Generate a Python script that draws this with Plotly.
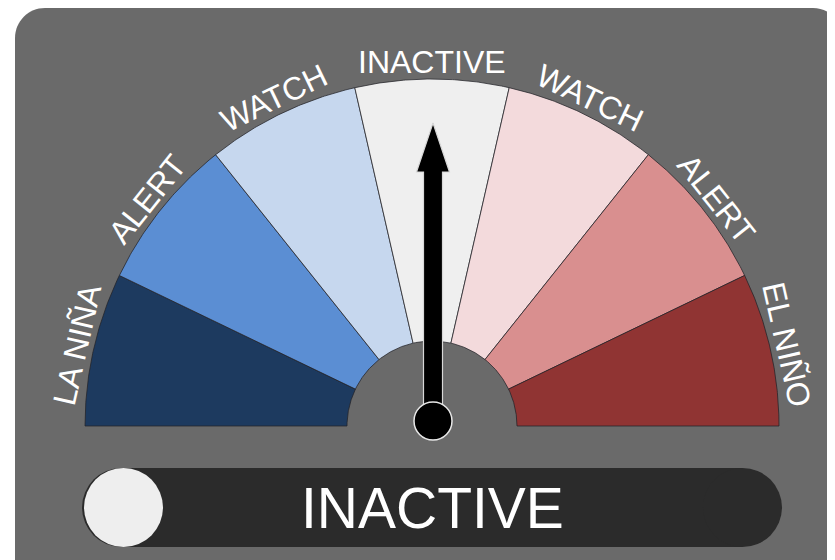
import numpy as np
import plotly.graph_objects as go

# ---- data ----
categories = ["LA NIÑA", "ALERT", "WATCH", "INACTIVE", "WATCH", "ALERT", "EL NIÑO"]
segment_colors = ["#1d3a5f", "#5b8ed3", "#c6d7ee", "#efefef", "#f3dadc", "#d98f8f", "#903433"]
active_index = 3          # needle points at this category
status_text = "INACTIVE"

# ---- layout geometry (pixels, 1 data unit = 1 px) ----
W, H = 835, 560
OFF = 8                   # page body margin compensation
CX, CY = 432, 426
R_OUT, R_IN = 347, 85
R_LABEL = 364
PIVOT = (433, 421)
FONT = "Liberation Sans, Arial, Helvetica, sans-serif"
BG = "#6a6a6a"

n = len(categories)
step = 180.0 / n

fig = go.Figure()

# segments
for i, (cat, col) in enumerate(zip(categories, segment_colors)):
    a0 = 180 - i * step
    a1 = 180 - (i + 1) * step
    t = np.radians(np.linspace(a0, a1, 80))
    xo = CX + R_OUT * np.cos(t)
    yo = CY - R_OUT * np.sin(t)
    xi = CX + R_IN * np.cos(t[::-1])
    yi = CY - R_IN * np.sin(t[::-1])
    xs = np.concatenate([xo, xi, xo[:1]])
    ys = np.concatenate([yo, yi, yo[:1]])
    fig.add_trace(go.Scatter(
        x=xs, y=ys, mode="lines", fill="toself", fillcolor=col,
        line=dict(color="rgba(35,35,40,0.75)", width=1),
        hoverinfo="skip", showlegend=False, name=cat))

# labels around the arc
annotations = []
for i, cat in enumerate(categories):
    mid = 180 - (i + 0.5) * step
    tm = np.radians(mid)
    annotations.append(dict(
        x=CX + R_LABEL * np.cos(tm), y=CY - R_LABEL * np.sin(tm),
        xref="x", yref="y", text=cat, showarrow=False,
        textangle=-(mid - 90), xanchor="center", yanchor="middle",
        font=dict(family=FONT, size=32, color="white")))

# needle
phi = np.radians(180 - (active_index + 0.5) * step)
u = np.array([np.cos(phi), -np.sin(phi)])
v = np.array([np.sin(phi), np.cos(phi)])
needle_local = [(0, -9.5), (249, -9.5), (249, -16.5), (298, 0),
                (249, 16.5), (249, 9.5), (0, 9.5), (0, -9.5)]
nx = [PIVOT[0] + r * u[0] + w * v[0] for r, w in needle_local]
ny = [PIVOT[1] + r * u[1] + w * v[1] for r, w in needle_local]
fig.add_trace(go.Scatter(
    x=nx, y=ny, mode="lines", fill="toself", fillcolor="black",
    line=dict(color="#d8d8d8", width=1.2), hoverinfo="skip", showlegend=False))
fig.add_trace(go.Scatter(
    x=[PIVOT[0]], y=[PIVOT[1]], mode="markers",
    marker=dict(size=38, color="black", line=dict(color="#e8e8e8", width=1.5)),
    hoverinfo="skip", showlegend=False))

# status text in pill
annotations.append(dict(
    x=CX, y=508, xref="x", yref="y", text=status_text, showarrow=False,
    xanchor="center", yanchor="middle",
    font=dict(family=FONT, size=57, color="white")))

# shapes: background panel, pill, indicator circle
k = 0.5523 * 30
bg_path = (f"M15,620 L15,38 C15,{38-k} {45-k},8 45,8 L813,8 "
           f"C{813+k},8 843,{38-k} 843,38 L843,620 Z")
PILL_X0, PILL_X1, PILL_Y0, PILL_Y1 = 82, 782, 468, 547
pr = (PILL_Y1 - PILL_Y0) / 2
shapes = [
    dict(type="path", path=bg_path, xref="x", yref="y", fillcolor=BG,
         line=dict(width=0), layer="below"),
    dict(type="rect", x0=PILL_X0 + pr, x1=PILL_X1 - pr, y0=PILL_Y0, y1=PILL_Y1,
         xref="x", yref="y", fillcolor="#2b2b2b", line=dict(width=0), layer="below"),
    dict(type="circle", x0=PILL_X0, x1=PILL_X0 + 2 * pr, y0=PILL_Y0, y1=PILL_Y1,
         xref="x", yref="y", fillcolor="#2b2b2b", line=dict(width=0), layer="below"),
    dict(type="circle", x0=PILL_X1 - 2 * pr, x1=PILL_X1, y0=PILL_Y0, y1=PILL_Y1,
         xref="x", yref="y", fillcolor="#2b2b2b", line=dict(width=0), layer="below"),
    dict(type="circle", x0=PILL_X0 + 2, x1=PILL_X0 + 2 + 2 * pr, y0=PILL_Y0, y1=PILL_Y1,
         xref="x", yref="y", fillcolor="#eeeeee", line=dict(width=0), layer="below"),
]

fig.update_layout(
    width=W, height=H, margin=dict(l=0, r=0, t=0, b=0),
    paper_bgcolor="white", plot_bgcolor="white",
    xaxis=dict(range=[OFF, W + OFF], visible=False, fixedrange=True),
    yaxis=dict(range=[H + OFF, OFF], visible=False, fixedrange=True),
    shapes=shapes, annotations=annotations, showlegend=False)

fig.write_html("out.html")
